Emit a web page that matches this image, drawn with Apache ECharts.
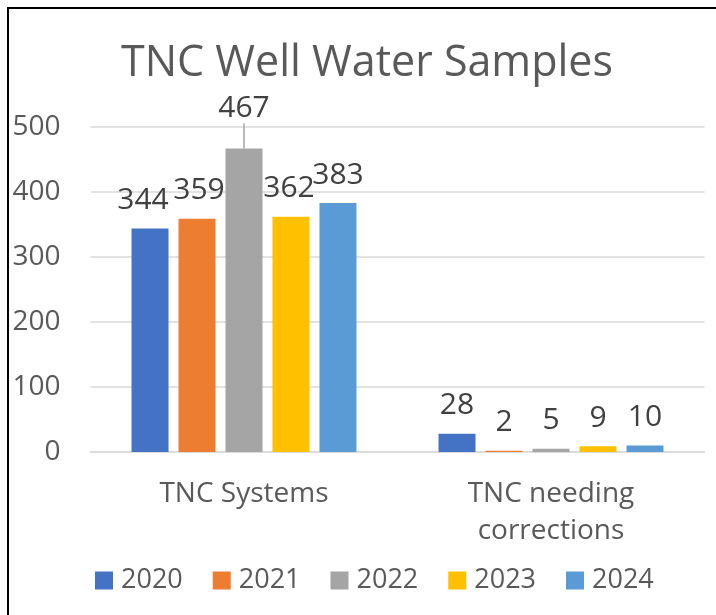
<!DOCTYPE html>
<html>
<head>
<meta charset="utf-8">
<script src="https://cdn.jsdelivr.net/npm/echarts@6/dist/echarts.min.js"></script>
<style>
  html, body { margin: 0; padding: 0; background: #fff; }
  #chart { width: 716px; height: 615px; }
</style>
</head>
<body>
<div id="chart"></div>
<script>
// 类别 / 年份 / 数值
const categories = ['TNC Systems', 'TNC needing\ncorrections'];
const years = ['2020', '2021', '2022', '2023', '2024'];
const colors = ['#4472C4', '#ED7D31', '#A5A5A5', '#FFC000', '#5B9BD5'];
const v2020 = [344, 28];
const v2021 = [359, 2];
const v2022 = [467, 5];
const v2023 = [362, 9];
const v2024 = [383, 10];
const yTicks = [0, 100, 200, 300, 400, 500];

const values = [v2020, v2021, v2022, v2023, v2024];
const font = '"Open Sans", "Noto Sans", sans-serif';

// 第一类别标签的手动微调 (像原图一样错开)
const nudge = { '2020': [-7, 0], '2021': [2, 0], '2023': [-2, 0], '2024': [0, 0] };

const chart = echarts.init(document.getElementById('chart'));

const series = years.map((y, i) => {
  const s = {
    name: y,
    type: 'bar',
    barWidth: 37,
    barGap: '27%',
    itemStyle: { color: colors[i] },
    label: {
      show: true,
      position: 'top',
      distance: 13,
      color: '#404040',
      fontSize: 30,
      fontFamily: font
    },
    data: values[i].map(v => ({ value: v }))
  };
  if (nudge[y]) {
    s.data[0].label = { offset: nudge[y] };
  }
  // 2022年的467标签上移并带引导线
  if (y === '2022') {
    s.data[0].labelLine = { show: true, lineStyle: { color: '#A5A5A5', width: 1.5 } };
    s.labelLayout = function (p) {
      if (p.dataIndex === 0) return { dy: -12 };
      return {};
    };
  }
  return s;
});

chart.setOption({
  backgroundColor: '#fff',
  animation: false,
  title: {
    text: 'TNC Well Water Samples',
    left: 362,
    top: 37,
    textAlign: 'center',
    textStyle: { fontFamily: font, fontSize: 43, fontWeight: 'normal', color: '#595959' }
  },
  legend: {
    data: years,
    bottom: 16,
    left: 90,
    itemWidth: 18,
    itemHeight: 18,
    itemGap: 30,
    icon: 'rect',
    textStyle: { fontFamily: font, fontSize: 27, color: '#595959', padding: [0, 0, 0, 3] }
  },
  grid: { left: 90.5, right: 11.5, top: 127, bottom: 163, containLabel: false },
  xAxis: {
    type: 'category',
    data: categories,
    axisLine: { lineStyle: { color: '#D9D9D9', width: 1.5 } },
    axisTick: { show: false },
    axisLabel: { fontFamily: font, fontSize: 28, color: '#595959', margin: 24, lineHeight: 37 }
  },
  yAxis: {
    type: 'value',
    min: yTicks[0],
    max: yTicks[yTicks.length - 1],
    interval: 100,
    axisLine: { show: false },
    axisTick: { show: false },
    splitLine: { lineStyle: { color: '#D9D9D9', width: 1.5 } },
    axisLabel: { fontFamily: font, fontSize: 28, color: '#595959', margin: 30 }
  },
  graphic: [{
    type: 'rect',
    shape: { x: 8, y: 8, width: 900, height: 900 },
    style: { fill: 'none', stroke: '#000', lineWidth: 2 },
    silent: true
  }],
  series: series
});
</script>
</body>
</html>
